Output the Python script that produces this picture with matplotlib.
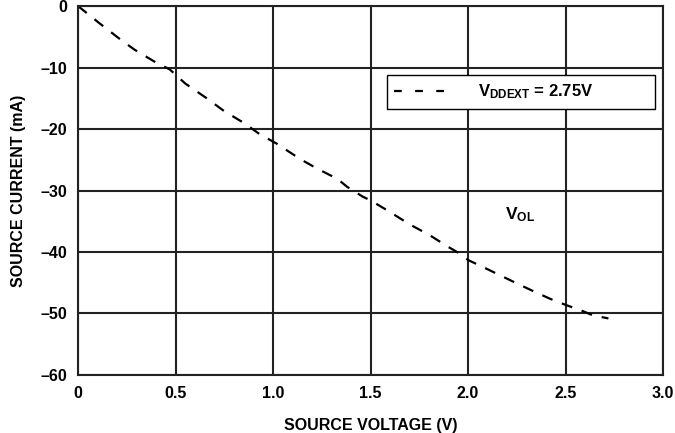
import matplotlib
matplotlib.use("Agg")
import matplotlib.pyplot as plt
from matplotlib.lines import Line2D

plt.rcParams['font.family'] = ['Liberation Sans', 'DejaVu Sans']
plt.rcParams['font.weight'] = 'bold'
plt.rcParams['mathtext.fontset'] = 'custom'
plt.rcParams['mathtext.rm'] = 'Liberation Sans:bold'
plt.rcParams['mathtext.bf'] = 'Liberation Sans:bold'
plt.rcParams['mathtext.it'] = 'Liberation Sans:bold'

# Data
voltage = [0.0, 0.11, 0.22, 0.29, 0.39, 0.47, 0.55, 0.66, 0.75, 0.85, 0.93, 1.02,
           1.14, 1.23, 1.33, 1.38, 1.46, 1.5, 1.6, 1.7, 1.8, 1.9, 1.96, 2.0,
           2.1, 2.23, 2.33, 2.42, 2.5, 2.58, 2.64, 2.72]
current = [0.0, -2.8, -5.5, -7.1, -9.0, -10.3, -12.6, -15.0, -17.1, -19.0, -20.8, -22.4,
           -24.9, -26.5, -28.1, -29.4, -31.0, -31.6, -33.5, -35.5, -37.2, -39.2, -40.3, -41.3,
           -42.8, -44.8, -46.3, -47.6, -48.6, -49.5, -50.3, -50.8]
x_ticks = [0, 0.5, 1.0, 1.5, 2.0, 2.5, 3.0]
x_ticklabels = ['0', '0.5', '1.0', '1.5', '2.0', '2.5', '3.0']
y_ticks = [0, -10, -20, -30, -40, -50, -60]
y_ticklabels = ['0', '\u201310', '\u201320', '\u201330', '\u201340', '\u201350', '\u201360']
legend_label = r'$\mathbf{V_{DDEXT}}$ = 2.75V'

fig = plt.figure(figsize=(6.75, 4.33), dpi=100)
ax = fig.add_axes([0.1156, 0.134, 0.8667, 0.852])

ax.plot(voltage, current, color='black', linewidth=1.6, linestyle=(0, (5, 4.5)))
ax.set_xlim(0, 3.0)
ax.set_ylim(-60, 0)
ax.set_xticks(x_ticks)
ax.set_xticklabels(x_ticklabels)
ax.set_yticks(y_ticks)
ax.set_yticklabels(y_ticklabels)
ax.tick_params(length=0, labelsize=11.5, pad=8)
for lab in ax.get_xticklabels() + ax.get_yticklabels():
    lab.set_fontweight('bold')
ax.grid(True, color='#222222', linewidth=1.5)
ax.set_axisbelow(True)
for s in ax.spines.values():
    s.set_linewidth(1.5)
    s.set_color('#222222')

ax.set_xlabel('SOURCE VOLTAGE (V)', fontsize=11.5, fontweight='bold', labelpad=12)
ax.set_ylabel('SOURCE CURRENT (mA)', fontsize=11.5, fontweight='bold', labelpad=10)

handle = Line2D([], [], color='black', linewidth=1.6, linestyle=(0, (3.5, 6)))
leg = ax.legend([handle], [legend_label], loc='lower left',
                bbox_to_anchor=(0.528, 0.721, 0.458, 0.097), mode='expand',
                frameon=True, fancybox=False, edgecolor='black', framealpha=1,
                fontsize=12, handlelength=3.1, handletextpad=1.9, borderpad=0.45,
                borderaxespad=0)
leg.get_frame().set_linewidth(1.0)

ax.text(2.19, -34.0, r'$\mathbf{V_{OL}}$', fontsize=12.5, fontweight='bold',
        ha='left', va='center')

fig.savefig('out.png', dpi=100)
